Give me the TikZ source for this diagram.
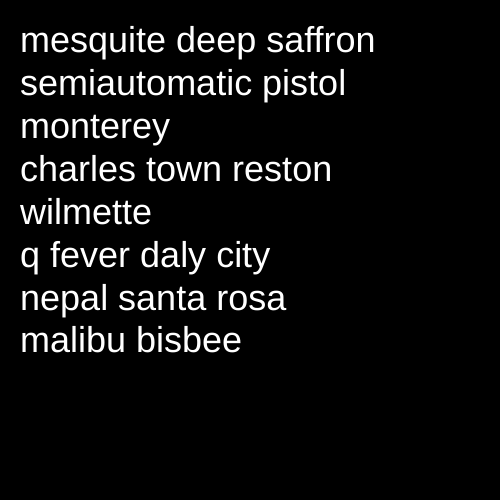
\documentclass[tikz,border=0pt]{standalone}
\usepackage{fontspec}
\setmainfont{Liberation Sans}
\usepackage{tikz}
\tikzstyle{ln}=[anchor=base west,inner sep=0pt,text=white,
  font=\fontsize{36pt}{42pt}\selectfont]
\begin{document}
\begin{tikzpicture}[x=1pt,y=1pt]
    \fill[black] (0,0) rectangle (500,500);
    \useasboundingbox (0,0) rectangle (500,500);
    \node [style=ln] (l1) at (20,447) {mesquite deep saffron};
    \node [style=ln] (l2) at (20,404.1) {semiautomatic pistol};
    \node [style=ln] (l3) at (20,361.3) {monterey};
    \node [style=ln] (l4) at (20,318.4) {charles town reston};
    \node [style=ln] (l5) at (20,275.6) {wilmette};
    \node [style=ln] (l6) at (20,232.7) {q fever daly city};
    \node [style=ln] (l7) at (20,189.9) {nepal santa rosa};
    \node [style=ln] (l8) at (20,147) {malibu bisbee};
  \end{tikzpicture}
\end{document}
